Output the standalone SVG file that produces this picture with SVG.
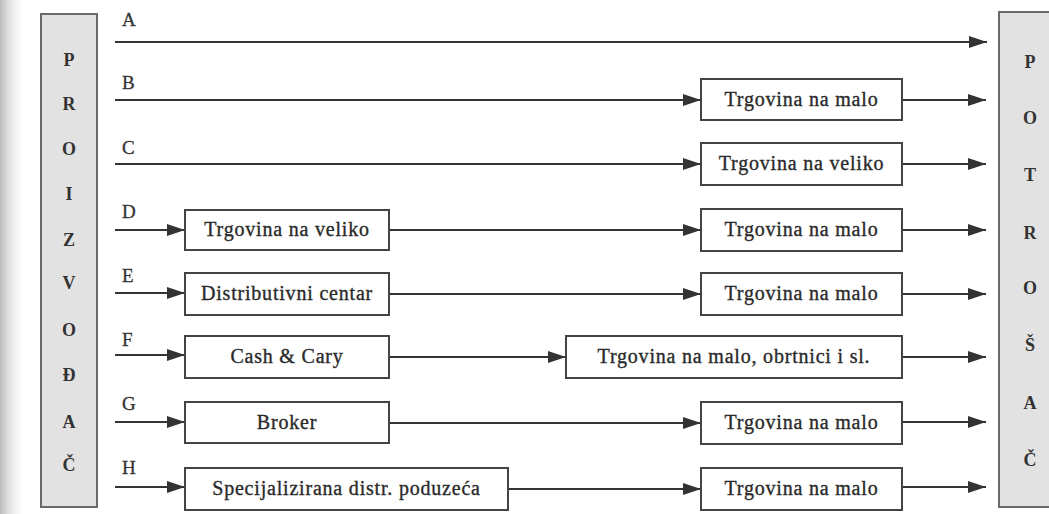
<svg xmlns="http://www.w3.org/2000/svg" width="1049" height="514" viewBox="0 0 1049 514">
<style>
.bar{fill:#e2e2e2;stroke:#6a6a6a;stroke-width:2}
.box{fill:#fff;stroke:#444;stroke-width:2}
.ln{stroke:#333;stroke-width:2;fill:none}
text{font-family:'Liberation Serif','DejaVu Serif',serif}
.t{font-size:20px;fill:#2a2a2a;stroke:#2a2a2a;stroke-width:0.35px;text-anchor:middle;letter-spacing:0.8px}
.lb{font-size:19px;fill:#333;stroke:#333;stroke-width:0.3px}
.bl{font-size:18px;font-weight:bold;fill:#333;text-anchor:middle}
</style>
<defs>
<marker id="ah" markerWidth="18" markerHeight="12" refX="18" refY="6" orient="auto" markerUnits="userSpaceOnUse">
<path d="M0,0 L18,6 L0,12 Z" fill="#333"/>
</marker>
<linearGradient id="edge" x1="0" x2="1" y1="0" y2="0">
<stop offset="0" stop-color="#bbb"/>
<stop offset="1" stop-color="#fff" stop-opacity="0"/>
</linearGradient>
</defs>
<rect width="1049" height="514" fill="#fff"/>
<rect width="28" height="514" fill="url(#edge)"/>

<g id="proizvodac">
<rect class="bar" x="41" y="14" width="56" height="493"/>
<text class="bl" x="69" y="66">P</text>
<text class="bl" x="69" y="110">R</text>
<text class="bl" x="69" y="155">O</text>
<text class="bl" x="69" y="200">I</text>
<text class="bl" x="69" y="246">Z</text>
<text class="bl" x="69" y="289">V</text>
<text class="bl" x="69" y="336">O</text>
<text class="bl" x="69" y="381">Đ</text>
<text class="bl" x="69" y="428">A</text>
<text class="bl" x="69" y="471">Č</text>
</g>

<g id="potrosac">
<rect class="bar" x="999" y="12" width="60" height="495"/>
<text class="bl" x="1030" y="68">P</text>
<text class="bl" x="1030" y="124">O</text>
<text class="bl" x="1030" y="181">T</text>
<text class="bl" x="1030" y="239">R</text>
<text class="bl" x="1030" y="294">O</text>
<text class="bl" x="1030" y="351">Š</text>
<text class="bl" x="1030" y="409">A</text>
<text class="bl" x="1030" y="466">Č</text>
</g>

<g id="labels">
<text class="lb" x="122" y="26">A</text>
<text class="lb" x="122" y="89">B</text>
<text class="lb" x="122" y="154">C</text>
<text class="lb" x="122" y="218">D</text>
<text class="lb" x="122" y="282">E</text>
<text class="lb" x="122" y="346">F</text>
<text class="lb" x="122" y="410">G</text>
<text class="lb" x="122" y="474">H</text>
</g>

<g id="connectors">
<line class="ln" x1="115" y1="42" x2="987" y2="42" marker-end="url(#ah)"/>
<line class="ln" x1="115" y1="100" x2="701" y2="100" marker-end="url(#ah)"/>
<line class="ln" x1="902" y1="100" x2="986" y2="100" marker-end="url(#ah)"/>
<line class="ln" x1="115" y1="164" x2="701" y2="164" marker-end="url(#ah)"/>
<line class="ln" x1="902" y1="164" x2="986" y2="164" marker-end="url(#ah)"/>
<line class="ln" x1="115" y1="230" x2="185" y2="230" marker-end="url(#ah)"/>
<line class="ln" x1="389" y1="230" x2="701" y2="230" marker-end="url(#ah)"/>
<line class="ln" x1="902" y1="230" x2="986" y2="230" marker-end="url(#ah)"/>
<line class="ln" x1="115" y1="293" x2="185" y2="293" marker-end="url(#ah)"/>
<line class="ln" x1="389" y1="294" x2="701" y2="294" marker-end="url(#ah)"/>
<line class="ln" x1="902" y1="294" x2="986" y2="294" marker-end="url(#ah)"/>
<line class="ln" x1="115" y1="355" x2="185" y2="355" marker-end="url(#ah)"/>
<line class="ln" x1="389" y1="357" x2="566" y2="357" marker-end="url(#ah)"/>
<line class="ln" x1="902" y1="357" x2="986" y2="357" marker-end="url(#ah)"/>
<line class="ln" x1="115" y1="422" x2="185" y2="422" marker-end="url(#ah)"/>
<line class="ln" x1="389" y1="423" x2="701" y2="423" marker-end="url(#ah)"/>
<line class="ln" x1="902" y1="422" x2="986" y2="422" marker-end="url(#ah)"/>
<line class="ln" x1="115" y1="487" x2="185" y2="487" marker-end="url(#ah)"/>
<line class="ln" x1="508" y1="489" x2="701" y2="489" marker-end="url(#ah)"/>
<line class="ln" x1="902" y1="487" x2="986" y2="487" marker-end="url(#ah)"/>
</g>

<g id="b-malo"><rect class="box" x="701" y="79" width="201" height="41"/><text class="t" x="801.5" y="106">Trgovina na malo</text></g>
<g id="c-veliko"><rect class="box" x="701" y="143" width="201" height="42"/><text class="t" x="801.5" y="170">Trgovina na veliko</text></g>
<g id="d-veliko"><rect class="box" x="185" y="210" width="204" height="40"/><text class="t" x="287" y="236">Trgovina na veliko</text></g>
<g id="d-malo"><rect class="box" x="701" y="209" width="201" height="42"/><text class="t" x="801.5" y="236">Trgovina na malo</text></g>
<g id="e-dc"><rect class="box" x="185" y="273" width="204" height="42"/><text class="t" x="287" y="300">Distributivni centar</text></g>
<g id="e-malo"><rect class="box" x="701" y="273" width="201" height="42"/><text class="t" x="801.5" y="300">Trgovina na malo</text></g>
<g id="f-cash"><rect class="box" x="185" y="336" width="204" height="42"/><text class="t" x="287" y="363">Cash &amp; Cary</text></g>
<g id="f-malo"><rect class="box" x="566" y="336" width="336" height="42"/><text class="t" x="734" y="363">Trgovina na malo, obrtnici i sl.</text></g>
<g id="g-broker"><rect class="box" x="185" y="402" width="204" height="41"/><text class="t" x="287" y="429">Broker</text></g>
<g id="g-malo"><rect class="box" x="701" y="402" width="201" height="42"/><text class="t" x="801.5" y="429">Trgovina na malo</text></g>
<g id="h-spec"><rect class="box" x="185" y="468" width="323" height="42"/><text class="t" x="346.5" y="495">Specijalizirana distr. poduzeća</text></g>
<g id="h-malo"><rect class="box" x="701" y="468" width="201" height="42"/><text class="t" x="801.5" y="495">Trgovina na malo</text></g>
</svg>
